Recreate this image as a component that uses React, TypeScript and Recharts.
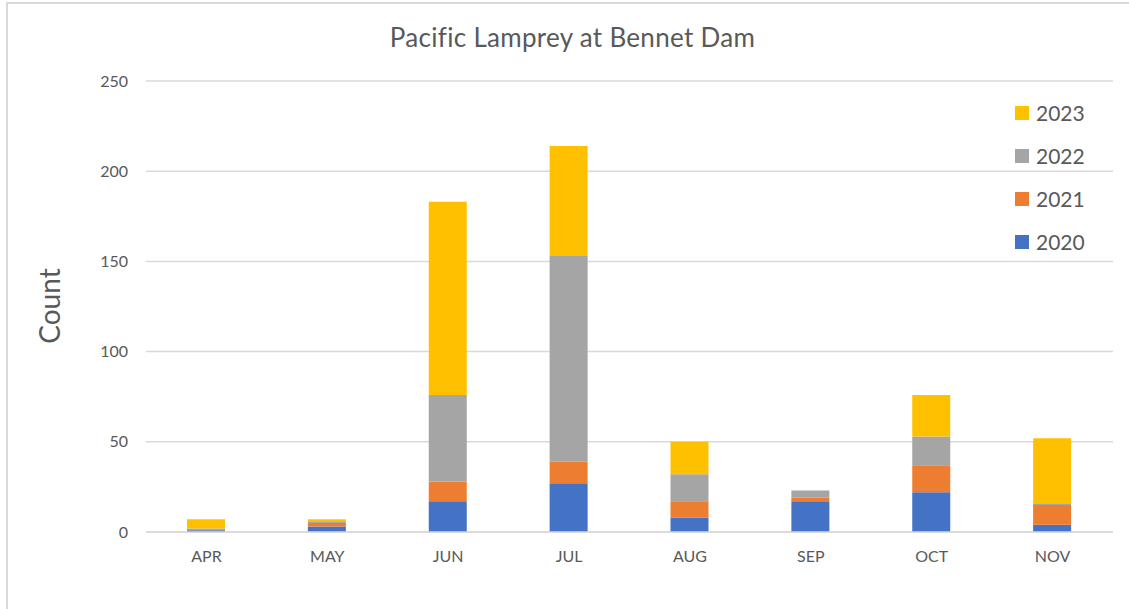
import React from "react";
import { BarChart, Bar, XAxis, YAxis, CartesianGrid } from "recharts";

const months = ["APR", "MAY", "JUN", "JUL", "AUG", "SEP", "OCT", "NOV"];
const y2020 = [1, 3, 17, 27, 8, 17, 22, 4];
const y2021 = [0, 2, 11, 12, 9, 2, 15, 11];
const y2022 = [1, 1, 48, 114, 15, 4, 16, 1];
const y2023 = [5, 1, 107, 61, 18, 0, 23, 36];
const yTicks = [0, 50, 100, 150, 200, 250];

const series = [
    { key: "2020", values: y2020, color: "#4472C4" },
    { key: "2021", values: y2021, color: "#ED7D31" },
    { key: "2022", values: y2022, color: "#A5A5A5" },
    { key: "2023", values: y2023, color: "#FFC000" },
];

const data = months.map((m, i) => {
    const row: Record<string, string | number> = { month: m };
    series.forEach((s) => { row[s.key] = s.values[i]; });
    return row;
});

const FONT = "Lato, 'Noto Sans', sans-serif";
const TEXT = "#595959";

// legend drawn in html so it doesn't eat into the plot width
function LegendBox() {
    const items = [...series].reverse();
    return (
        <div style={{ position: "absolute", left: 1015, top: 91, fontFamily: FONT }}>
            {items.map((s) => (
                <div key={s.key} style={{ display: "flex", alignItems: "center", height: 43 }}>
                    <span style={{ width: 14, height: 14, background: s.color, display: "inline-block", marginRight: 7 }} />
                    <span style={{ fontSize: 21, color: TEXT }}>{s.key}</span>
                </div>
            ))}
        </div>
    );
}

export default function App() {
    return (
        <div style={{ position: "fixed", left: 0, top: 0, width: 1129, height: 609, background: "#fff", overflow: "hidden" }}>
            <div style={{ position: "absolute", left: 6, top: 2, width: 1200, height: 700, borderTop: "2px solid #D9D9D9", borderLeft: "2px solid #D9D9D9" }} />
            <div style={{ position: "absolute", left: 0, top: 21, width: 1145, textAlign: "center", fontFamily: FONT, fontSize: 26, letterSpacing: 0.3, color: TEXT }}>
                Pacific Lamprey at Bennet Dam
            </div>
            <div style={{ position: "absolute", left: 49, top: 306, transform: "translate(-50%, -50%) rotate(-90deg)", fontFamily: FONT, fontSize: 28, color: TEXT, whiteSpace: "nowrap" }}>
                Count
            </div>
            <BarChart
                width={1129}
                height={609}
                data={data}
                margin={{ top: 81, right: 16, left: 0, bottom: 47 }}
                barSize={38}
                style={{ position: "absolute", left: 0, top: 0 }}
            >
                <CartesianGrid vertical={false} stroke="#D9D9D9" strokeWidth={1.5} />
                <XAxis
                    dataKey="month"
                    axisLine={{ stroke: "#D9D9D9", strokeWidth: 1.5 }}
                    tickLine={false}
                    tickMargin={13}
                    height={30}
                    tick={{ fill: TEXT, fontSize: 16, fontFamily: FONT }}
                />
                <YAxis
                    width={146}
                    domain={[0, 250]}
                    ticks={yTicks}
                    axisLine={false}
                    tickLine={false}
                    tickMargin={12}
                    tick={{ fill: TEXT, fontSize: 16, fontFamily: FONT }}
                />
                {series.map((s) => (
                    <Bar key={s.key} dataKey={s.key} name={s.key} stackId="a" fill={s.color} isAnimationActive={false} />
                ))}
            </BarChart>
            <LegendBox />
        </div>
    );
}
